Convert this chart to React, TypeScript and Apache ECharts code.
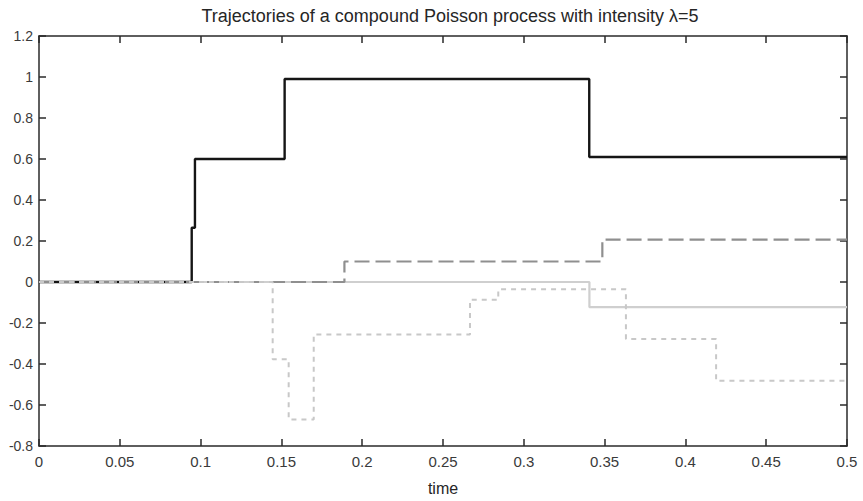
import React, { useEffect, useRef } from "react";
import * as echarts from "echarts";

const titleText = "Trajectories of a compound Poisson process with intensity λ=5";
const xLabel = "time";

// jump times and values of each trajectory (value holds from its time until the next time)
const blackTimes = [0, 0.0945, 0.0965, 0.152, 0.3405, 0.5];
const blackValues = [0, 0.265, 0.6, 0.99, 0.61, 0.61];

const dashedTimes = [0, 0.189, 0.3486, 0.5];
const dashedValues = [0, 0.1, 0.207, 0.207];

const lightTimes = [0, 0.3406, 0.5];
const lightValues = [0, -0.123, -0.123];

const dottedTimes = [0, 0.1446, 0.1545, 0.17, 0.2667, 0.2842, 0.3632, 0.419, 0.5];
const dottedValues = [0, -0.377, -0.671, -0.256, -0.087, -0.035, -0.278, -0.482, -0.482];

const xMin = 0;
const xMax = 0.5;
const xStep = 0.05;
const yMin = -0.8;
const yMax = 1.2;
const yStep = 0.2;

const pairs = (t: number[], v: number[]) => t.map((x, i) => [x, v[i]]);

const fmt = (v: number) => {
  const r = Math.round(v * 100) / 100;
  return String(r);
};

export default function App() {
  const ref = useRef<HTMLDivElement>(null);
  useEffect(() => {
    if (!ref.current) return;
    const chart = echarts.init(ref.current, undefined, { renderer: "svg" });
    const axisLine = { show: true, onZero: false, lineStyle: { color: "#2a2a2a", width: 1.5 } };
    const tick = { show: true, inside: true, length: 7, lineStyle: { color: "#2a2a2a", width: 1.5 } };
    const font = "Liberation Sans, Arial, sans-serif";
    const lbl = { color: "#3a3a3a", fontSize: 14, fontFamily: font };
    chart.setOption({
      animation: false,
      backgroundColor: "#ffffff",
      title: {
        text: titleText,
        left: 445,
        top: 2,
        textAlign: "center",
        textStyle: { color: "#262626", fontSize: 18, fontWeight: "normal", fontFamily: font },
      },
      grid: { left: 39, right: 16, top: 36, bottom: 53, containLabel: false },
      xAxis: [
        {
          type: "value",
          min: xMin,
          max: xMax,
          interval: xStep,
          position: "bottom",
          axisLine,
          axisTick: tick,
          splitLine: { show: false },
          axisLabel: { ...lbl, fontSize: 15, margin: 8, formatter: fmt },
          name: xLabel,
          nameLocation: "middle",
          nameGap: 34,
          nameTextStyle: { ...lbl, fontSize: 16, color: "#262626" },
        },
        {
          type: "value",
          min: xMin,
          max: xMax,
          interval: xStep,
          position: "top",
          axisLine,
          axisTick: tick,
          splitLine: { show: false },
          axisLabel: { show: false },
        },
      ],
      yAxis: [
        {
          type: "value",
          min: yMin,
          max: yMax,
          interval: yStep,
          position: "left",
          axisLine,
          axisTick: tick,
          splitLine: { show: false },
          axisLabel: { ...lbl, margin: 6, formatter: fmt },
        },
        {
          type: "value",
          min: yMin,
          max: yMax,
          interval: yStep,
          position: "right",
          axisLine,
          axisTick: tick,
          splitLine: { show: false },
          axisLabel: { show: false },
        },
      ],
      series: [
        {
          type: "line",
          step: "end",
          data: pairs(lightTimes, lightValues),
          symbol: "none",
          z: 2,
          lineStyle: { color: "#cfcfcf", width: 2.2 },
        },
        {
          type: "line",
          step: "end",
          data: pairs(blackTimes, blackValues),
          symbol: "none",
          z: 3,
          lineStyle: { color: "#151515", width: 2.4 },
        },
        {
          type: "line",
          step: "end",
          data: pairs(dashedTimes, dashedValues),
          symbol: "none",
          z: 4,
          lineStyle: { color: "#8f8f8f", width: 2.2, type: [15, 6] },
        },
        {
          type: "line",
          step: "end",
          data: pairs(dottedTimes, dottedValues),
          symbol: "none",
          z: 5,
          lineStyle: { color: "#c8c8c8", width: 2, type: [5, 5] },
        },
      ],
    });
    return () => chart.dispose();
  }, []);
  return (
    <div
      ref={ref}
      style={{ position: "fixed", left: 0, top: 0, width: 863, height: 501, background: "#fff" }}
    />
  );
}
